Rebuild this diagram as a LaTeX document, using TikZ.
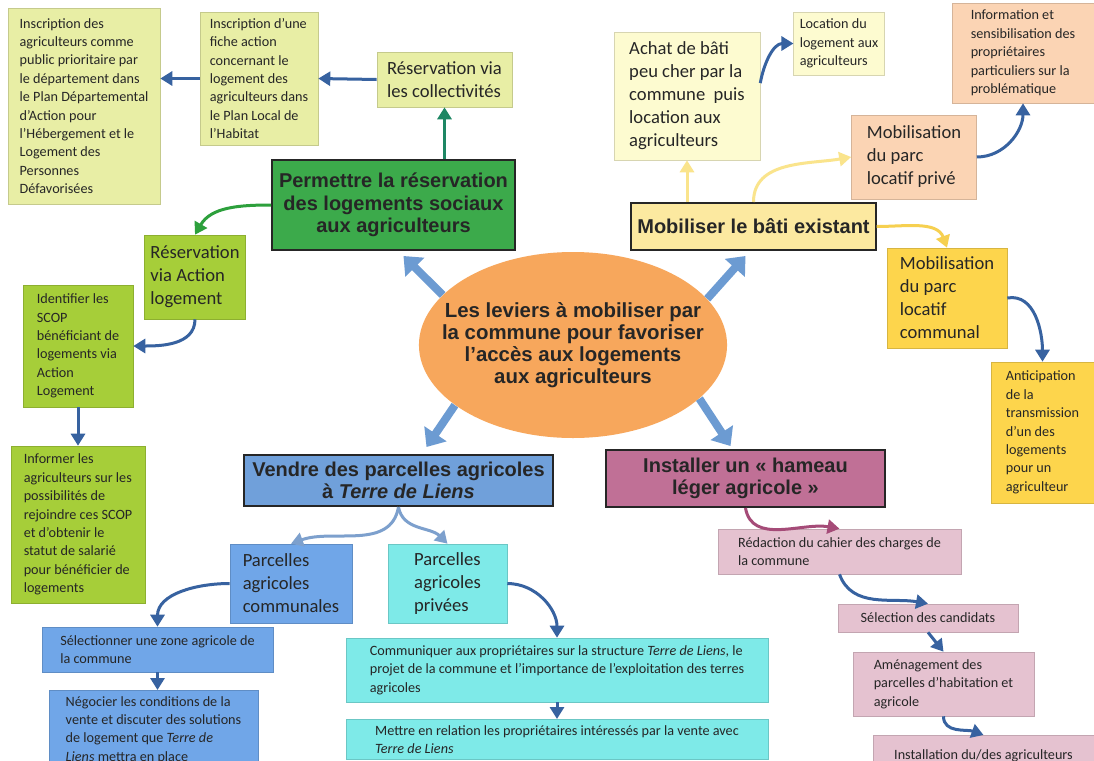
\documentclass[tikz,border=0pt]{standalone}
\usepackage{fontspec}
\setmainfont{Carlito}
\newfontfamily\headfont{Liberation Sans}
\usetikzlibrary{arrows.meta, shapes.geometric, calc}

\definecolor{paleGreen}{RGB}{232,238,165}
\definecolor{permGreen}{RGB}{60,170,75}
\definecolor{limeGreen}{RGB}{166,206,57}
\definecolor{levOrange}{RGB}{247,167,92}
\definecolor{paleYellow}{RGB}{253,251,208}
\definecolor{peach}{RGB}{251,212,180}
\definecolor{batiYellow}{RGB}{252,233,160}
\definecolor{goldFill}{RGB}{253,213,76}
\definecolor{vendreBlue}{RGB}{112,160,218}
\definecolor{hameauMauve}{RGB}{192,112,150}
\definecolor{commBlue}{RGB}{112,166,232}
\definecolor{privCyan}{RGB}{126,234,232}
\definecolor{pinkMauve}{RGB}{229,194,208}
\definecolor{arrBlue}{RGB}{55,98,160}
\definecolor{levBlue}{RGB}{108,155,210}
\definecolor{tealGreen}{RGB}{30,135,100}
\definecolor{leafGreen}{RGB}{45,160,60}
\definecolor{paleArrow}{RGB}{250,228,140}
\definecolor{goldArrow}{RGB}{246,208,80}
\definecolor{mauveArrow}{RGB}{165,75,120}
\definecolor{greyBlue}{RGB}{125,160,205}

\begin{document}
\begin{tikzpicture}[
        x=0.5pt, y=0.5pt,
        every node/.style={font=\fontsize{7.1}{9.2}\selectfont, text=black!85, inner sep=3pt},
        box/.style={fill=#1, draw=#1!85!black, line width=0.3pt, align=left},
        midbox/.style={box=#1, font=\fontsize{9.3}{11.5}\selectfont},
        headbox/.style={fill=#1, draw=black!85, line width=1pt, align=center, font=\headfont\bfseries\fontsize{10}{11.3}\selectfont},
        arrow/.style={-{Triangle[length=6pt, width=7pt]}, line width=1.5pt, draw=#1},
        arrow/.default=arrBlue,
        bigarrow/.style={-{Triangle[length=8pt, width=13pt]}, line width=4pt, draw=levBlue}
      ]
        \clip (0,0) rectangle (1094,-761);
        \fill[white] (0,0) rectangle (1094,-761);

        \node[ellipse, fill=levOrange, minimum width=150pt, minimum height=93pt, inner xsep=-11pt, inner ysep=11pt, align=center, font=\headfont\bfseries\fontsize{10.2}{10.9}\selectfont] (lev) at (573,-345) {Les leviers à mobiliser par\\la commune pour favoriser\\l’accès aux logements\\aux agriculteurs};

        \node[headbox=permGreen, minimum width=121.5pt, minimum height=45pt] (permettre) at (393.5,-205) {Permettre la réservation\\des logements sociaux\\aux agriculteurs};
        \node[midbox=paleGreen, minimum width=67.5pt, minimum height=27.5pt] (resColl) at (444.5,-79.5) {Réservation via\\les collectivités};
        \node[box=paleGreen, minimum width=59pt, minimum height=66.5pt] (inscPLH) at (259,-78.5) {Inscription d’une\\fiche action\\concernant le\\logement des\\agriculteurs dans\\le Plan Local de\\l’Habitat};
        \node[box=paleGreen, minimum width=76pt, minimum height=98pt] (inscDep) at (84,-106) {Inscription des\\agriculteurs comme\\public prioritaire par\\le département dans\\le Plan Départemental\\d’Action pour\\l’Hébergement et le\\Logement des\\Personnes\\Défavorisées};
        \node[midbox=limeGreen, minimum width=50pt, minimum height=42pt] (resAction) at (195,-277) {Réservation\\via Action\\logement};
        \node[box=limeGreen, minimum width=55pt, minimum height=61pt] (identifier) at (78,-346) {Identifier les\\SCOP\\bénéficiant de\\logements via\\Action\\Logement};
        \node[box=limeGreen, minimum width=67pt, minimum height=78.5pt] (informer) at (78,-524.5) {Informer les\\agriculteurs sur les\\possibilités de\\rejoindre ces SCOP\\et d’obtenir le\\statut de salarié\\pour bénéficier de\\logements};

        \node[headbox=batiYellow, minimum width=121.5pt, minimum height=23.5pt] (mobBati) at (753.5,-226.5) {Mobiliser le bâti existant};
        \node[midbox=paleYellow, minimum width=73pt, minimum height=64pt] (achat) at (687,-96) {Achat de bâti\\peu cher par la\\commune~ puis\\location aux\\agriculteurs};
        \node[box=paleYellow, minimum width=44pt, minimum height=31.5pt] (locLog) at (839,-43.5) {Location du\\logement aux\\agriculteurs};
        \node[midbox=peach, minimum width=62.5pt, minimum height=42pt] (mobPrive) at (914,-157) {Mobilisation\\du parc\\locatif privé};
        \node[box=peach, minimum width=71pt, minimum height=50pt] (infoSens) at (1023,-53) {Information et\\sensibilisation des\\propriétaires\\particuliers sur la\\problématique};
        \node[midbox=goldFill, minimum width=60pt, minimum height=50pt] (mobComm) at (947,-298) {Mobilisation\\du parc\\locatif\\communal};
        \node[box=goldFill, minimum width=51.5pt, minimum height=70.5pt] (anticip) at (1042.5,-432.5) {Anticipation\\de la\\transmission\\d’un des\\logements\\pour un\\agriculteur};

        \node[headbox=vendreBlue, minimum width=154.5pt, minimum height=25.5pt] (vendre) at (398.5,-480.5) {Vendre des parcelles agricoles\\à \textit{Terre de Liens}};
        \node[midbox=commBlue, minimum width=61pt, minimum height=39.5pt] (parcComm) at (291,-583.5) {Parcelles\\agricoles\\communales};
        \node[midbox=privCyan, minimum width=59.5pt, minimum height=39.5pt] (parcPriv) at (447.5,-583.5) {Parcelles\\agricoles\\privées};
        \node[box=commBlue, minimum width=115.5pt, minimum height=22.5pt] (selZone) at (157.5,-649.5) {Sélectionner une zone agricole de\\la commune};
        \node[box=commBlue, minimum width=104.5pt, anchor=north] (negocier) at (153.5,-690) {Négocier les conditions de la\\vente et discuter des solutions\\de logement que \textit{Terre de}\\\textit{Liens} mettra en place};
        \node[box=privCyan, minimum width=211pt, minimum height=32pt] (communiquer) at (557,-670) {Communiquer aux propriétaires sur la structure \textit{Terre de Liens}, le\\projet de la commune et l’importance de l’exploitation des terres\\agricoles};
        \node[box=privCyan, minimum width=211pt, anchor=north] (mettre) at (557,-719) {Mettre en relation les propriétaires intéressés par la vente avec\\\textit{Terre de Liens}};

        \node[headbox=hameauMauve, minimum width=139.5pt, minimum height=28.5pt] (installer) at (745.5,-478.5) {Installer un « hameau\\léger agricole »};
        \node[box=pinkMauve, minimum width=121.5pt, minimum height=22.5pt] (redaction) at (839.5,-551.5) {Rédaction du cahier des charges de\\la commune};
        \node[box=pinkMauve, minimum width=90pt, minimum height=14pt] (selCand) at (928,-618) {Sélection des candidats};
        \node[box=pinkMauve, minimum width=90.5pt, minimum height=32pt] (amenag) at (943.5,-684) {Aménagement des\\parcelles d’habitation et\\agricole};
        \node[box=pinkMauve, minimum width=110.5pt, minimum height=20pt, anchor=north] (installation) at (983.5,-735) {Installation du/des agriculteurs};

        \draw[bigarrow] (lev.159) -- ($(permettre.south)+(10,-5)$);
        \draw[bigarrow] (lev.19) -- ($(mobBati.south)+(-8,-5)$);
        \draw[bigarrow] (lev.207) -- ($(vendre.north)+(28,7)$);
        \draw[bigarrow] (lev.-23) -- ($(installer.north)+(-15,3)$);

        \draw[arrow=tealGreen] (permettre.north -| resColl) -- (resColl.south);
        \draw[arrow=leafGreen] (permettre.west) to[out=180, in=60] (resAction.north);
        \draw[arrow] (resColl.west) -- (inscPLH.east);
        \draw[arrow] (inscPLH.west) -- (inscPLH.west -| inscDep.east);
        \draw[arrow] (resAction.south) to[out=-90, in=0] (identifier.east);
        \draw[arrow] (identifier.south) -- (informer.north);

        \draw[arrow=paleArrow] (mobBati.north -| achat) -- (achat.south);
        \draw[arrow=paleArrow] (mobBati.north) to[out=90, in=190] (mobPrive.west);
        \draw[arrow=goldArrow] (mobBati.east) to[out=0, in=110] (mobComm.north);
        \draw[arrow] (achat.10) to[out=80, in=180] (locLog.west);
        \draw[arrow] (mobPrive.east) to[out=0, in=-90] (infoSens.south);
        \draw[arrow] (mobComm.east) to[out=10, in=90] (anticip.north);

        \draw[arrow=greyBlue] (vendre.south) to[out=-100, in=20] (parcComm.north);
        \draw[arrow=greyBlue] (vendre.south) to[out=-80, in=135] (parcPriv.north);
        \draw[arrow] (parcComm.west) to[out=180, in=90] (selZone.north);
        \draw[arrow] (selZone.south) -- (selZone.south |- negocier.north);
        \draw[arrow] (parcPriv.east) to[out=0, in=90] (communiquer.north);
        \draw[arrow] (communiquer.south) -- (mettre.north);

        \draw[arrow=mauveArrow] (installer.south) to[out=-80, in=170] (redaction.north);
        \draw[arrow] (redaction.south) to[out=-70, in=170] (selCand.north);
        \draw[arrow] (selCand.south) -- (amenag.north);
        \draw[arrow] (amenag.south) to[out=-90, in=160] (installation.north);
      \end{tikzpicture}
\end{document}
